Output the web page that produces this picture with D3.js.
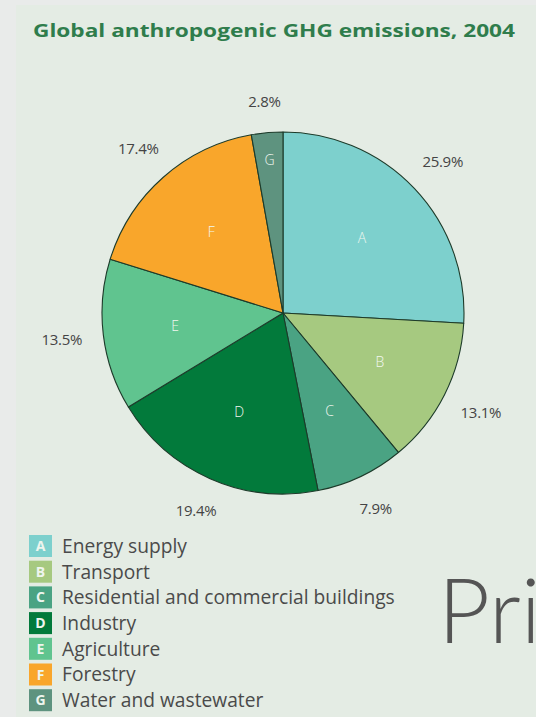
<!DOCTYPE html>
<html><head><meta charset="utf-8">
<script src="https://cdn.jsdelivr.net/npm/d3@7"></script>
<style>
html,body{margin:0;padding:0;background:#e9ebea;}
svg{display:block;}
</style></head>
<body>
<svg id="chart" width="536" height="717"></svg>
<script>
const title = "Global anthropogenic GHG emissions, 2004";
const letters = ["A","B","C","D","E","F","G"];
const sectors = ["Energy supply","Transport","Residential and commercial buildings","Industry","Agriculture","Forestry","Water and wastewater"];
const shares = [25.9, 13.1, 7.9, 19.4, 13.5, 17.4, 2.8];
const colors = ["#7dd0cd","#a6c980","#4aa383","#027a3b","#60c48f","#f9a62b","#5e937f"];

const svg = d3.select("#chart");
const W = 536, H = 717;

// panel
svg.append("rect").attr("x",0).attr("y",0).attr("width",W).attr("height",H).attr("fill","#e9ebea");
svg.append("rect").attr("x",16).attr("y",5).attr("width",W-16).attr("height",H-5).attr("fill","#e4ece4");

// title
svg.append("text").attr("x",33).attr("y",37)
  .attr("font-family","'Open Sans', sans-serif").attr("font-weight","bold")
  .attr("font-size",18.5).attr("fill","#2f7d4c")
  .attr("textLength",482).attr("lengthAdjust","spacingAndGlyphs")
  .text(title);

// pie
const cx = 283, cy = 313, r = 181;
const data = letters.map((l,i)=>({letter:l, value:shares[i], color:colors[i], name:sectors[i]}));
const pie = d3.pie().value(d=>d.value).sort(null);
const arcs = pie(data);
const arc = d3.arc().innerRadius(0).outerRadius(r);
const g = svg.append("g").attr("transform",`translate(${cx},${cy})`);
g.selectAll("path.slice").data(arcs).join("path").attr("class","slice")
  .attr("d",arc).attr("fill",d=>d.data.color)
  .attr("stroke","#1d3b2a").attr("stroke-width",1.1).attr("stroke-linejoin","round");

// letters inside
const inner = d3.arc().innerRadius(0).outerRadius(r);
g.selectAll("text.letter").data(arcs).join("text").attr("class","letter")
  .attr("transform",d=>{
    const a=(d.startAngle+d.endAngle)/2;
    const rr = (d.endAngle-d.startAngle) < 0.3 ? r*0.85 : r*0.6;
    return `translate(${rr*Math.sin(a)},${-rr*Math.cos(a)})`;
  })
  .attr("text-anchor","middle").attr("dy","0.36em")
  .attr("font-family","'Open Sans', sans-serif").attr("font-size",14)
  .attr("fill","#f2f7f0").attr("font-weight","300")
  .text(d=>d.data.letter);

// percentage labels
const fmt = d3.format(".1f");
g.selectAll("text.pct").data(arcs).join("text").attr("class","pct")
  .attr("transform",d=>{
    const a=(d.startAngle+d.endAngle)/2;
    const rr = r + 30 + 12*Math.abs(Math.sin(a));
    return `translate(${rr*Math.sin(a)},${-rr*Math.cos(a)})`;
  })
  .attr("text-anchor","middle").attr("dy","0.35em")
  .attr("font-family","'Open Sans', sans-serif").attr("font-size",15)
  .attr("letter-spacing","-0.3")
  .attr("fill","#444").text(d=>fmt(d.data.value)+"%");

// legend
const legY0 = 535, pitch = 25.7;
const leg = svg.append("g");
const rows = leg.selectAll("g").data(data).join("g")
  .attr("transform",(d,i)=>`translate(29,${legY0 + i*pitch})`);
rows.append("rect").attr("width",23).attr("height",22).attr("fill",d=>d.color);
rows.append("text").attr("x",11.5).attr("y",11).attr("dy","0.36em")
  .attr("text-anchor","middle").attr("font-family","'Open Sans', sans-serif")
  .attr("font-size",14).attr("font-weight","bold").attr("fill","#eef5ee").text(d=>d.letter);
const lt = rows.append("text").attr("x",33).attr("y",11).attr("dy","0.36em")
  .attr("font-family","'Open Sans', sans-serif").attr("font-size",17)
  .attr("fill","#4a4a4a").text(d=>d.name);
// fit longest to reference width
let maxW = 0; lt.each(function(){ maxW = Math.max(maxW, this.getComputedTextLength()); });
lt.attr("font-size", 17*333/maxW);

// large overlay text
svg.append("text").attr("x",438).attr("y",643)
  .attr("font-family","Lato, sans-serif").attr("font-weight","300")
  .attr("font-size",90).attr("fill","#555").text("Pri");
</script>
</body></html>
